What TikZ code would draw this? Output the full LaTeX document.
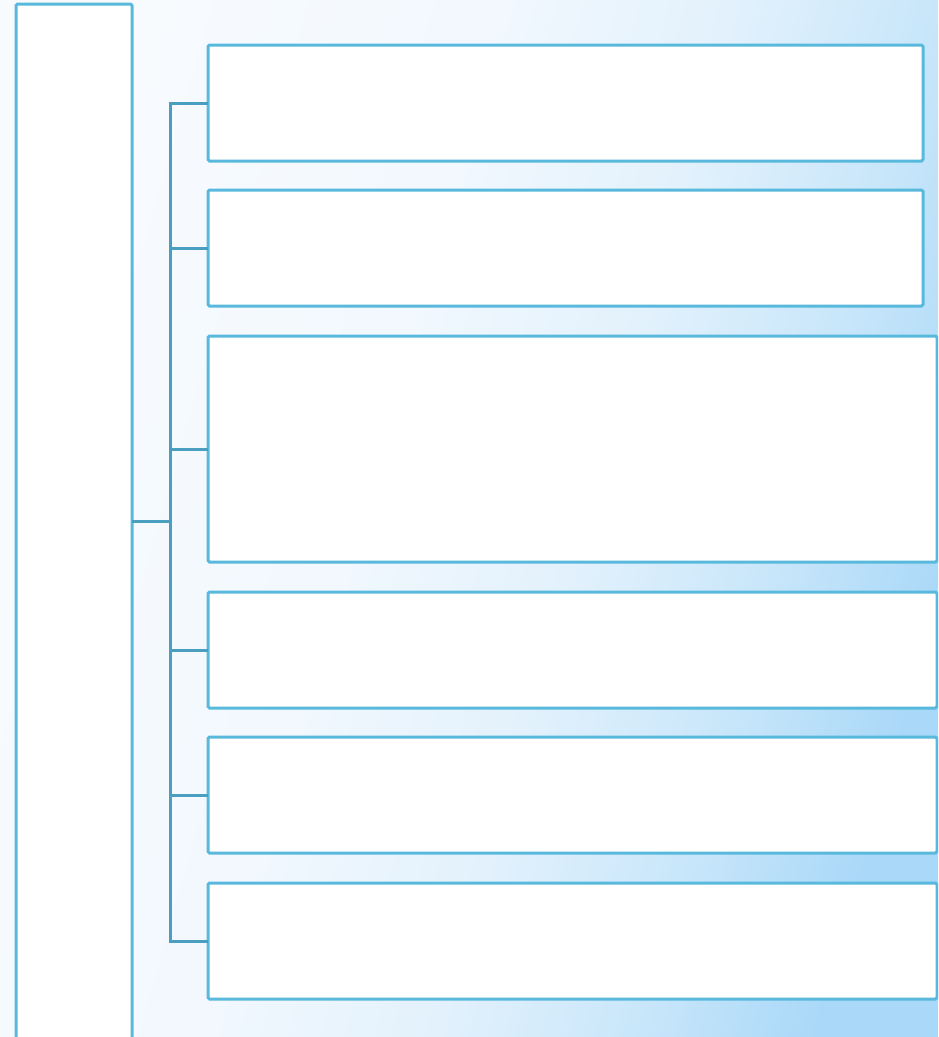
\documentclass[tikz,border=0pt]{standalone}
\usetikzlibrary{positioning, shadings}

\definecolor{boxline}{HTML}{58B9DC}
\definecolor{linkline}{HTML}{4A9EC0}
\definecolor{bga}{HTML}{F8FBFE}
\definecolor{bgb}{HTML}{F2F8FE}
\definecolor{bgc}{HTML}{E2F1FC}
\definecolor{bgd}{HTML}{C8E6FA}
\definecolor{bge}{HTML}{A9D8F8}

\pgfdeclarehorizontalshading{bgshade}{100bp}{
  color(0bp)=(bga); color(25bp)=(bga); color(44bp)=(bgb);
  color(56bp)=(bgc); color(66bp)=(bgd); color(75bp)=(bge); color(100bp)=(bge)}

\tikzset{
  itembox/.style={draw=boxline, fill=white, line width=3pt,
    rounded corners=1.5pt, inner sep=0pt, outer sep=0pt, anchor=north west},
  link/.style={draw=linkline, line width=3pt}
}

\begin{document}
\begin{tikzpicture}[x=1pt,y=1pt]
  % background
  \useasboundingbox (0,0) rectangle (938,-1037);
  \clip (0,0) rectangle (938,-1037);
  \shade[shading=bgshade, shading angle=-16] (0,0) rectangle (938,-1037);
  % left column
  \node[itembox, minimum width=116pt, minimum height=1070pt] (root) at (16,-4) {};
  % item boxes
  \foreach \n/\t/\h/\w in {1/45/116/715, 2/190/116/715, 3/336/226/729,
                           4/592/116/729, 5/737/116/729, 6/883/116/729}
    {\node[itembox, minimum width=\w pt, minimum height=\h pt] (b\n) at (208,-\t) {};}
  % connectors
  \coordinate (hub) at (170,-521);
  \draw[link] (root.east |- hub) -- (hub);
  \draw[link, line cap=rect] (b1.west -| hub) -- (b6.west -| hub);
  \foreach \n in {1,...,6}
    {\draw[link] (b\n.west -| hub) -- (b\n.west);}
\end{tikzpicture}
\end{document}
